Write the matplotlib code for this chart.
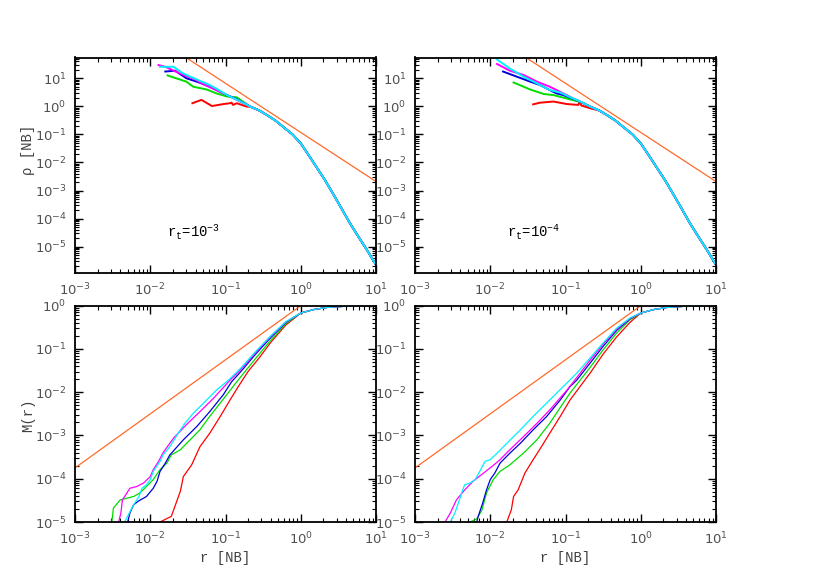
import numpy as np
import matplotlib
matplotlib.use("Agg")
import matplotlib.pyplot as plt
from matplotlib.ticker import LogLocator, NullFormatter

plt.rcParams['mathtext.fontset'] = 'custom'
plt.rcParams['mathtext.tt'] = 'Liberation Mono'

# ---------------- data (log10 values) ----------------
# Top panels: density rho(r); shared outer profile
top_tail_logr = [-0.67, -0.55, -0.45, -0.34, -0.23, -0.11, 0.0, 0.1, 0.21, 0.32, 0.43, 0.54, 0.65, 0.76, 0.88, 1.0]
top_tail_logy = [-0.01, -0.15, -0.31, -0.50, -0.74, -1.0, -1.32, -1.72, -2.17, -2.62, -3.12, -3.63, -4.15, -4.62, -5.12, -5.65]

# top-left (r_t = 1e-3)
tl_red_logr = [-1.44, -1.32, -1.18, -1.03, -0.94, -0.92, -0.90, -0.85, -0.72]
tl_red_logy = [0.11, 0.23, 0.01, 0.08, 0.11, 0.13, 0.05, 0.11, -0.01]
tl_green_logr = [-1.77, -1.52, -1.43, -1.25, -1.12, -0.98, -0.85, -0.76]
tl_green_logy = [1.10, 0.88, 0.70, 0.60, 0.46, 0.35, 0.32, 0.15]
tl_blue_logr = [-1.80, -1.67, -1.52, -1.35, -1.21, -0.98, -0.85]
tl_blue_logy = [1.24, 1.27, 1.0, 0.85, 0.70, 0.40, 0.25]
tl_magenta_logr = [-1.89, -1.79, -1.69, -1.52, -1.40, -1.30, -1.10, -0.90]
tl_magenta_logy = [1.47, 1.40, 1.27, 1.08, 0.95, 0.80, 0.55, 0.30]
tl_cyan_logr = [-1.87, -1.69, -1.58, -1.47, -1.35, -1.21, -1.10, -0.98, -0.82]
tl_cyan_logy = [1.41, 1.41, 1.20, 1.06, 0.92, 0.76, 0.60, 0.40, 0.20]

# top-right (r_t = 1e-4)
tr_red_logr = [-1.43, -1.34, -1.16, -0.98, -0.83, -0.81, -0.79, -0.67, -0.55]
tr_red_logy = [0.07, 0.13, 0.17, 0.08, 0.05, 0.17, 0.03, -0.07, -0.15]
tr_green_logr = [-1.69, -1.47, -1.29, -1.16, -1.03, -0.90, -0.76]
tr_green_logy = [0.85, 0.60, 0.44, 0.40, 0.31, 0.22, 0.12]
tr_blue_logr = [-1.83, -1.65, -1.47, -1.34, -1.21, -1.12, -1.03, -0.85]
tr_blue_logy = [1.24, 1.06, 0.88, 0.76, 0.58, 0.46, 0.40, 0.22]
tr_magenta_logr = [-1.91, -1.74, -1.56, -1.38, -1.21, -1.03, -0.85]
tr_magenta_logy = [1.51, 1.27, 1.12, 0.88, 0.70, 0.46, 0.22]
tr_cyan_logr = [-1.91, -1.74, -1.56, -1.38, -1.21, -1.07, -0.94, -0.81]
tr_cyan_logy = [1.67, 1.35, 1.06, 0.82, 0.58, 0.49, 0.33, 0.18]

# Bottom panels: enclosed mass M(r); shared outer part
bot_tail_logr = [0.0, 0.17, 0.35, 0.57, 0.8, 1.0]
bot_tail_logy = [-0.17, -0.09, -0.04, -0.015, -0.005, 0.0]

# bottom-left
bl_red_logr = [-1.87, -1.72, -1.65, -1.60, -1.56, -1.45, -1.34, -1.21, -1.07, -0.94, -0.83, -0.70, -0.55, -0.40, -0.20]
bl_red_logy = [-5.0, -4.87, -4.53, -4.29, -3.95, -3.68, -3.26, -2.95, -2.56, -2.18, -1.87, -1.52, -1.20, -0.85, -0.45]
bl_green_logr = [-2.51, -2.49, -2.40, -2.31, -2.22, -2.14, -2.05, -1.96, -1.87, -1.78, -1.72, -1.60, -1.47, -1.34, -1.21, -1.07, -0.90, -0.80, -0.60, -0.40, -0.20]
bl_green_logy = [-5.0, -4.68, -4.49, -4.45, -4.41, -4.33, -4.18, -4.02, -3.79, -3.64, -3.45, -3.33, -3.10, -2.87, -2.56, -2.25, -1.87, -1.65, -1.22, -0.80, -0.42]
bl_blue_logr = [-2.30, -2.27, -2.22, -2.16, -2.05, -1.96, -1.91, -1.87, -1.80, -1.74, -1.56, -1.38, -1.21, -1.03, -0.92, -0.80, -0.60, -0.40, -0.20]
bl_blue_logy = [-5.0, -4.79, -4.60, -4.52, -4.41, -4.22, -4.06, -3.83, -3.64, -3.45, -3.10, -2.79, -2.45, -2.06, -1.76, -1.53, -1.12, -0.74, -0.39]
bl_magenta_logr = [-2.42, -2.39, -2.37, -2.27, -2.18, -2.09, -2.00, -1.96, -1.89, -1.83, -1.69, -1.52, -1.34, -1.16, -0.96, -0.80, -0.60, -0.40, -0.20]
bl_magenta_logy = [-5.0, -4.79, -4.49, -4.22, -4.18, -4.10, -3.95, -3.79, -3.60, -3.40, -3.06, -2.75, -2.45, -2.14, -1.76, -1.48, -1.08, -0.71, -0.38]
bl_cyan_logr = [-2.34, -2.29, -2.22, -2.15, -2.11, -2.05, -2.00, -1.96, -1.87, -1.83, -1.74, -1.63, -1.54, -1.43, -1.29, -1.12, -0.96, -0.80, -0.60, -0.40, -0.20]
bl_cyan_logy = [-5.0, -4.83, -4.60, -4.41, -4.22, -4.14, -4.02, -3.83, -3.60, -3.45, -3.26, -2.95, -2.72, -2.49, -2.25, -1.95, -1.72, -1.45, -1.06, -0.70, -0.37]

# bottom-right
br_red_logr = [-1.78, -1.72, -1.69, -1.63, -1.54, -1.43, -1.32, -1.21, -1.07, -0.94, -0.85, -0.67, -0.50, -0.32, -0.14]
br_red_logy = [-5.0, -4.72, -4.41, -4.26, -3.87, -3.56, -3.26, -2.95, -2.56, -2.18, -1.97, -1.55, -1.12, -0.72, -0.38]
br_green_logr = [-2.27, -2.18, -2.11, -2.05, -1.96, -1.87, -1.74, -1.56, -1.38, -1.21, -1.03, -0.94, -0.85, -0.67, -0.50, -0.32, -0.14]
br_green_logy = [-5.0, -4.93, -4.72, -4.33, -4.02, -3.83, -3.68, -3.41, -3.10, -2.72, -2.25, -2.02, -1.82, -1.42, -1.02, -0.63, -0.32]
br_blue_logr = [-2.18, -2.16, -2.10, -2.05, -2.00, -1.94, -1.87, -1.74, -1.60, -1.43, -1.25, -1.07, -0.94, -0.85, -0.67, -0.50, -0.32, -0.14]
br_blue_logy = [-5.0, -4.87, -4.56, -4.26, -4.02, -3.87, -3.64, -3.41, -3.18, -2.87, -2.56, -2.18, -1.87, -1.72, -1.32, -0.94, -0.57, -0.30]
br_magenta_logr = [-2.60, -2.53, -2.45, -2.34, -2.23, -2.09, -1.98, -1.87, -1.74, -1.56, -1.38, -1.21, -0.98, -0.85, -0.67, -0.50, -0.32, -0.14]
br_magenta_logy = [-5.0, -4.79, -4.49, -4.26, -4.06, -3.87, -3.72, -3.56, -3.33, -3.03, -2.72, -2.41, -1.95, -1.66, -1.25, -0.89, -0.54, -0.29]
br_cyan_logr = [-2.53, -2.47, -2.41, -2.38, -2.34, -2.27, -2.20, -2.14, -2.07, -2.00, -1.91, -1.78, -1.60, -1.43, -1.25, -1.03, -0.85, -0.67, -0.50, -0.32, -0.14]
br_cyan_logy = [-5.0, -4.79, -4.49, -4.33, -4.14, -4.10, -4.02, -3.83, -3.60, -3.56, -3.41, -3.18, -2.87, -2.56, -2.25, -1.87, -1.56, -1.20, -0.86, -0.52, -0.28]

# power-law reference lines (endpoints)
ref_top_logr = [-1.52, 1.0]
ref_top_logy = [1.73, -2.68]
ref_bot_logr = [-3.0, 0.0]
ref_bot_logy = [-3.75, 0.0]

panel_labels = [r'r$_{\mathtt{t}}$=10$^{\mathtt{-3}}$', r'r$_{\mathtt{t}}$=10$^{\mathtt{-4}}$']

colors = {'red': '#ff0000', 'green': '#00dd00', 'blue': '#0000d8',
          'magenta': '#ff00ff', 'cyan': '#00f0ff'}
orange = '#ff6a28'
order = ['red', 'green', 'blue', 'magenta', 'cyan']


def join(lr, ly, tr, ty):
    lr = list(lr); ly = list(ly)
    for a, b in zip(tr, ty):
        if a > lr[-1]:
            lr.append(a); ly.append(b)
    return 10.0 ** np.array(lr), 10.0 ** np.array(ly)


top_sets = [
    {'red': (tl_red_logr, tl_red_logy), 'green': (tl_green_logr, tl_green_logy),
     'blue': (tl_blue_logr, tl_blue_logy), 'magenta': (tl_magenta_logr, tl_magenta_logy),
     'cyan': (tl_cyan_logr, tl_cyan_logy)},
    {'red': (tr_red_logr, tr_red_logy), 'green': (tr_green_logr, tr_green_logy),
     'blue': (tr_blue_logr, tr_blue_logy), 'magenta': (tr_magenta_logr, tr_magenta_logy),
     'cyan': (tr_cyan_logr, tr_cyan_logy)},
]
bot_sets = [
    {'red': (bl_red_logr, bl_red_logy), 'green': (bl_green_logr, bl_green_logy),
     'blue': (bl_blue_logr, bl_blue_logy), 'magenta': (bl_magenta_logr, bl_magenta_logy),
     'cyan': (bl_cyan_logr, bl_cyan_logy)},
    {'red': (br_red_logr, br_red_logy), 'green': (br_green_logr, br_green_logy),
     'blue': (br_blue_logr, br_blue_logy), 'magenta': (br_magenta_logr, br_magenta_logy),
     'cyan': (br_cyan_logr, br_cyan_logy)},
]

W, H = 830, 581
fig = plt.figure(figsize=(W / 100, H / 100), dpi=100)


def ax_at(x0, x1, y0, y1):
    return fig.add_axes([x0 / W, 1 - y1 / H, (x1 - x0) / W, (y1 - y0) / H])


def style(ax, ylim):
    ax.set_xscale('log'); ax.set_yscale('log')
    ax.set_xlim(1e-3, 10)
    ax.set_ylim(*ylim)
    ax.xaxis.set_major_locator(LogLocator(base=10, numticks=20))
    ax.yaxis.set_major_locator(LogLocator(base=10, numticks=20))
    ax.xaxis.set_minor_locator(LogLocator(base=10, subs=np.arange(2, 10), numticks=50))
    ax.yaxis.set_minor_locator(LogLocator(base=10, subs=np.arange(2, 10), numticks=50))
    ax.xaxis.set_minor_formatter(NullFormatter())
    ax.yaxis.set_minor_formatter(NullFormatter())
    ax.tick_params(which='both', direction='in', top=True, right=True,
                   labelsize=9.5, labelcolor='#505050', color='black')
    ax.tick_params(which='major', length=6, width=1.0, pad=6)
    ax.tick_params(which='minor', length=3, width=0.8)
    for s in ax.spines.values():
        s.set_linewidth(1.3)


tops = [ax_at(75, 376, 57.5, 273), ax_at(415, 716, 57.5, 273)]
bots = [ax_at(75, 376, 305.7, 522), ax_at(415, 716, 305.7, 522)]

for i, ax in enumerate(tops):
    for c in order:
        lr, ly = top_sets[i][c]
        x, y = join(lr, ly, top_tail_logr, top_tail_logy)
        ax.plot(x, y, color=colors[c], lw=1.4)
    ax.plot(10.0 ** np.array(ref_top_logr), 10.0 ** np.array(ref_top_logy), color=orange, lw=0.9)
    style(ax, (10 ** -5.94, 10 ** 1.74))
    ax.text(0.305, 0.17, panel_labels[i], transform=ax.transAxes, fontsize=10,
            family=['Liberation Mono', 'DejaVu Sans Mono'], color='black')

for i, ax in enumerate(bots):
    for c in order:
        lr, ly = bot_sets[i][c]
        x, y = join(lr, ly, bot_tail_logr, bot_tail_logy)
        ax.plot(x, y, color=colors[c], lw=0.9)
    ax.plot(10.0 ** np.array(ref_bot_logr), 10.0 ** np.array(ref_bot_logy), color=orange, lw=0.9)
    style(ax, (1e-5, 1.0))

mono = ['Liberation Mono', 'DejaVu Sans Mono']
fig.text(28 / W, 1 - 150 / H, 'ρ [NB]', rotation=90, ha='center', va='center',
         fontsize=10, family=mono, color='#404040')
fig.text(28 / W, 1 - 415 / H, 'M(r)', rotation=90, ha='center', va='center',
         fontsize=10, family=mono, color='#404040')
fig.text(225.5 / W, 1 - 558 / H, 'r [NB]', ha='center', va='center',
         fontsize=10, family=mono, color='#404040')
fig.text(565.5 / W, 1 - 558 / H, 'r [NB]', ha='center', va='center',
         fontsize=10, family=mono, color='#404040')

fig.savefig('out.png', dpi=100)
